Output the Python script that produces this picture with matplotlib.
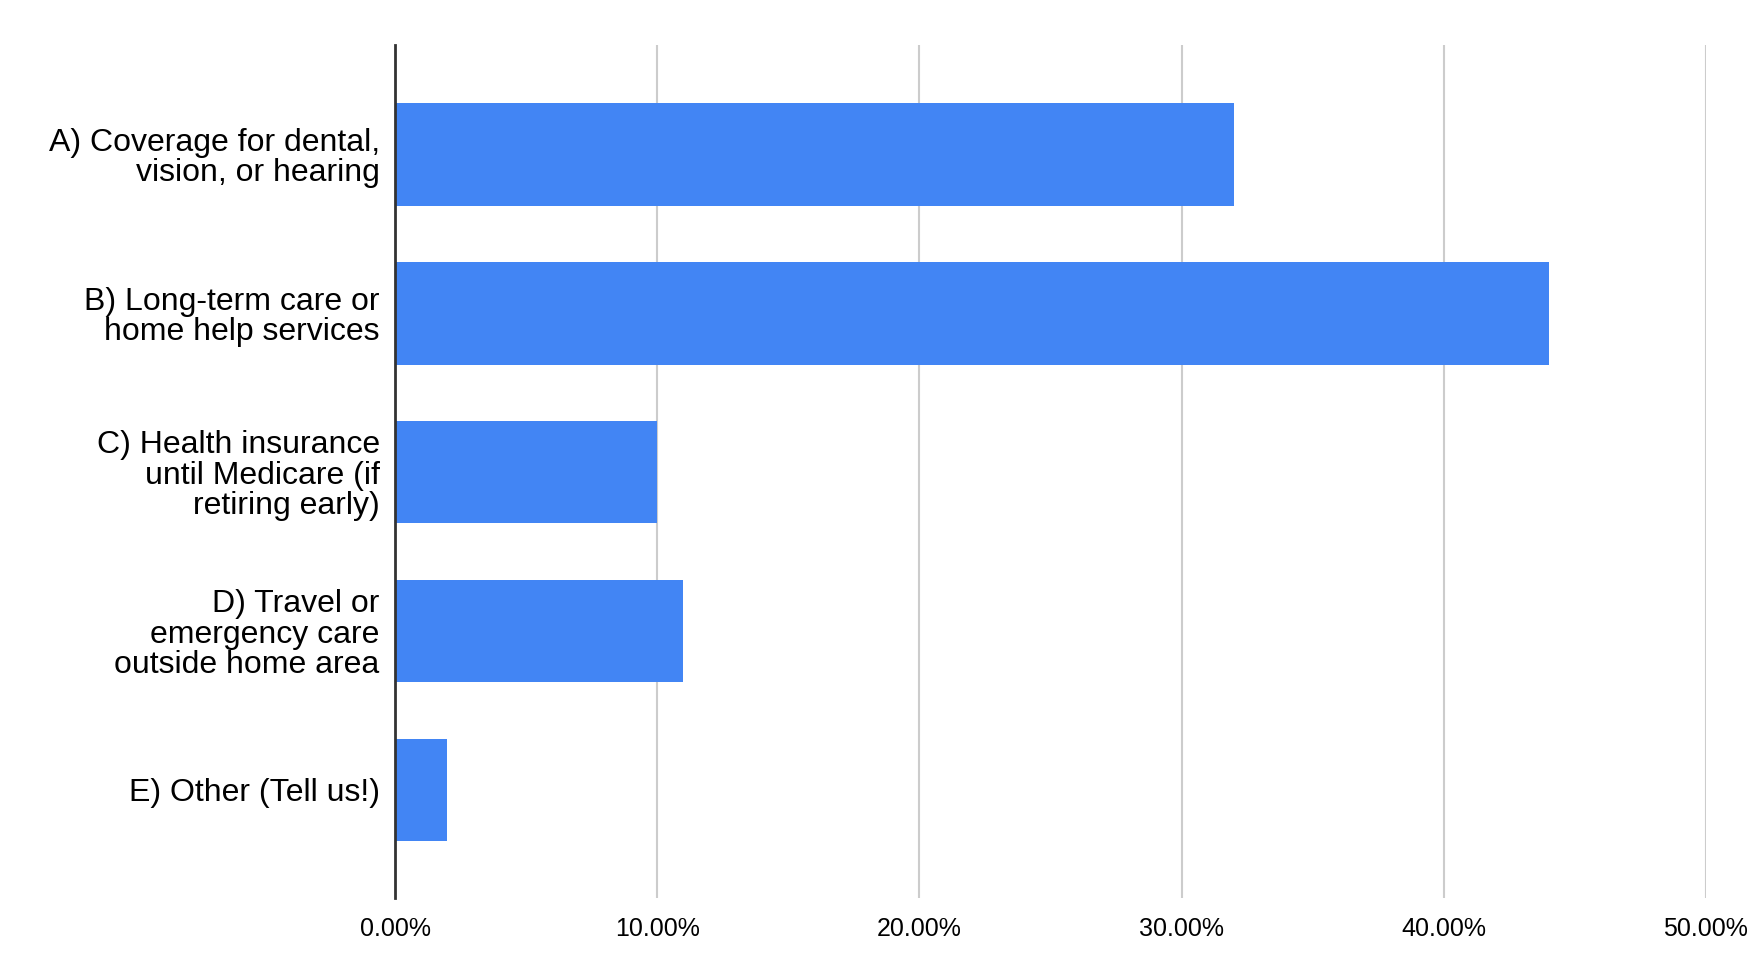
import matplotlib.pyplot as plt
from matplotlib.ticker import FuncFormatter

plt.rcParams['font.family'] = ['Liberation Sans', 'DejaVu Sans']

# survey answers and shares (%)
labels = [
    "A) Coverage for dental,\nvision, or hearing",
    "B) Long-term care or\nhome help services",
    "C) Health insurance\nuntil Medicare (if\nretiring early)",
    "D) Travel or\nemergency care\noutside home area",
    "E) Other (Tell us!)",
]
shares = [32, 44, 10, 11, 2]
xticks = [0, 10, 20, 30, 40, 50]

fig = plt.figure(figsize=(17.54, 9.76), dpi=100)
ax = fig.add_axes([0.2252, 0.080, 0.7474, 0.874])

ypos = list(range(len(labels)))
ax.barh(ypos, shares, height=0.645, color="#4285F4", zorder=3)

ax.set_xlim(0, 50)
ax.set_ylim(len(labels) - 1 + 0.68, -0.69)
ax.set_xticks(xticks)
ax.xaxis.set_major_formatter(FuncFormatter(lambda v, p: f"{v:.2f}%"))
ax.set_yticks(ypos)
ax.set_yticklabels(labels, fontsize=23, linespacing=1.02)
ax.tick_params(axis='y', length=0, pad=11)
ax.tick_params(axis='x', length=0, pad=14, labelsize=18)

ax.grid(axis='x', color="#cccccc", linewidth=1.5, zorder=0)
for s in ['top', 'right', 'bottom']:
    ax.spines[s].set_visible(False)
ax.spines['left'].set_color("#333333")
ax.spines['left'].set_linewidth(2)
ax.spines['left'].set_zorder(4)

fig.savefig("out.png", dpi=100, facecolor="white")
